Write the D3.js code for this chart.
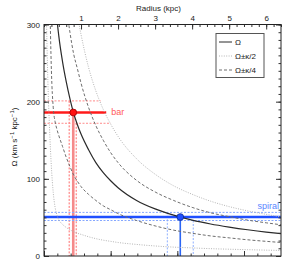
<!DOCTYPE html>
<html>
<head>
<meta charset="utf-8">
<script src="https://cdn.jsdelivr.net/npm/d3@7"></script>
<style>
  body { margin: 0; background: #fff; }
  svg { display: block; font-family: "Liberation Sans", Arial, sans-serif; }
  .tick text { font-size: 8px; fill: #222; }
</style>
</head>
<body>
<svg id="chart" width="287" height="259"></svg>
<script>
// radius samples (kpc) and curve values (km/s/kpc)
var radius      = [0.05, 0.07, 0.1, 0.15, 0.2, 0.25, 0.3, 0.35, 0.4, 0.5, 0.6, 0.7, 0.8, 0.9, 1.0, 1.2, 1.4, 1.6, 1.8, 2.0, 2.5, 3.0, 3.5, 4.0, 4.5, 5.0, 5.5, 6.0, 6.4]
var omega       = [null, null, null, null, null, null, 340, 307, 285, 252, 226, 204, 185, 170.5, 158, 138, 121, 108, 97.5, 88.5, 72, 61, 53, 46.5, 41.5, 37.5, 34, 31, 29]
var omegaPlusK4 = [null, null, null, null, null, null, null, null, null, null, 325, 290, 262, 243, 224, 193, 169, 150, 134, 121, 98, 83, 72, 63, 56, 51, 46.5, 43, 40.5]
var omegaPlusK2 = [null, null, null, null, null, null, null, null, null, null, null, null, 335, 312, 287, 245, 214, 190, 171, 155, 126, 106, 91, 80, 71, 64, 58.5, 54, 50.5]
var omegaMinK4  = [null, null, null, 350, 240, 192, 174, 164, 156, 142, 128, 116, 105, 97, 90, 80, 72, 65, 60, 55, 46, 39, 33.5, 29.5, 26, 23.5, 21, 19, 17.5]
var omegaMinK2  = [360, 300, 235, 165, 115, 82, 63, 53, 47, 41, 37, 34, 31.5, 29.5, 28, 25, 22.5, 20.5, 19, 17.5, 15, 13, 11.5, 10.5, 9.5, 8.8, 8.2, 7.6, 7.2]

// bar: pattern speed with its range, corotation radius with its range
var barOmega   = [201, 186, 172]     // upper, value, lower
var barHEnd    = [1.53, 1.68, 1.80]  // horizontal lines stop at Omega+kappa/2
var barR       = [0.68, 0.79, 0.87]
// spiral
var spiralOmega = [56.5, 50.5, 46]
var spiralR     = [3.33, 3.68, 4.03]

var yTicks = [0, 100, 200, 300]
var topTicks = [1, 2, 3, 4, 5, 6]

var svg = d3.select('#chart')
// (window.top is read only, so the frame edges get their own names)
var pLeft = 44, pRight = 281, pTop = 24.5, pBottom = 256

var x = d3.scaleLinear().domain([0, 6.4]).range([pLeft, pRight])
var y = d3.scaleLinear().domain([0, 300]).range([pBottom, pTop])
// lower axis (angular scale, its labels fall outside the picture)
var xb = d3.scaleLinear().domain([0, 177.75]).range([pLeft, pRight])

svg.append('clipPath').attr('id', 'plotclip')
    .append('rect')
    .attr('x', pLeft).attr('y', pTop)
    .attr('width', pRight - pLeft).attr('height', pBottom - pTop)

var plot = svg.append('g').attr('clip-path', 'url(#plotclip)')

// bar and spiral markers
drawSet = function(omegas, rs, hEnds, c){
    var styles = [
        {w: 1, dash: '2,1.5', col: c.dash},
        {w: 2.6, dash: null, col: c.solid},
        {w: 1, dash: '2,1.5', col: c.dash}
    ]
    for(var i=0; i<3; i++){
        plot.append('line')
            .attr('x1', x(0)).attr('x2', x(hEnds[i]))
            .attr('y1', y(omegas[i])).attr('y2', y(omegas[i]))
            .attr('stroke', styles[i].col)
            .attr('stroke-width', styles[i].w)
            .attr('stroke-dasharray', styles[i].dash)
        plot.append('line')
            .attr('x1', x(rs[i])).attr('x2', x(rs[i]))
            .attr('y1', y(omegas[i])).attr('y2', y(0))
            .attr('stroke', i == 1 ? c.vsolid : c.vdash)
            .attr('stroke-width', i == 1 ? c.vw : 1)
            .attr('stroke-dasharray', styles[i].dash)
    }
}
drawSet(barOmega, barR, barHEnd,
    {solid: '#ff1a1a', dash: '#ff8a8a', vsolid: '#f58a8a', vdash: '#ff6a6a', vw: 2.6})
drawSet(spiralOmega, spiralR, [6.4, 6.4, 6.4],
    {solid: '#1f4fff', dash: '#86a8ff', vsolid: '#2b66f5', vdash: '#8fb0ff', vw: 1.6})

// curves
var line = d3.line()
    .defined(function(d){ return d[1] != null })
    .x(function(d){ return x(d[0]) })
    .y(function(d){ return y(d[1]) })
    .curve(d3.curveMonotoneX)

var curves = [
    {vals: omegaMinK2,  col: '#b4b4b4', w: 1,   dash: '1,1.4'},
    {vals: omegaPlusK2, col: '#b4b4b4', w: 1,   dash: '1,1.4'},
    {vals: omegaMinK4,  col: '#6e6e6e', w: 1,   dash: '3,2'},
    {vals: omegaPlusK4, col: '#6e6e6e', w: 1,   dash: '3,2'},
    {vals: omega,       col: '#2a2a2a', w: 1.2, dash: null}
]
curves.forEach(function(c){
    var pts = radius.map(function(r, k){ return [r, c.vals[k]] })
    plot.append('path')
        .attr('d', line(pts))
        .attr('fill', 'none')
        .attr('stroke', c.col)
        .attr('stroke-width', c.w)
        .attr('stroke-dasharray', c.dash)
})

// points
svg.append('circle').attr('cx', x(barR[1])).attr('cy', y(barOmega[1])).attr('r', 3.4)
    .attr('fill', '#ff1010').attr('stroke', '#a00000').attr('stroke-width', 0.8)
svg.append('circle').attr('cx', x(spiralR[1])).attr('cy', y(spiralOmega[1])).attr('r', 3.4)
    .attr('fill', '#1f4fff').attr('stroke', '#0a2a90').attr('stroke-width', 0.8)

svg.append('text').text('bar')
    .attr('x', x(barHEnd[1]) + 5).attr('y', y(barOmega[1]) + 3)
    .attr('font-size', '9px').attr('fill', '#ff5a5a')
svg.append('text').text('spiral')
    .attr('x', pRight - 2).attr('y', y(spiralOmega[0]) - 3)
    .attr('text-anchor', 'end')
    .attr('font-size', '9px').attr('fill', '#5a86ff')

// axes, ticks pointing inward
addAxis = function(axis, tx, ty, major, minor, labels){
    var g = svg.append('g').attr('transform', 'translate(' + tx + ',' + ty + ')')
    g.call(axis.tickValues(minor).tickSize(-2.5).tickFormat(''))
    g.selectAll('.domain').remove()
    g.selectAll('line').attr('stroke', '#333')
    var g2 = svg.append('g').attr('transform', 'translate(' + tx + ',' + ty + ')')
    g2.call(axis.tickValues(major).tickSize(-5).tickPadding(4).tickFormat(labels ? d3.format('d') : ''))
    g2.selectAll('.domain').remove()
    g2.selectAll('line').attr('stroke', '#333')
}
addAxis(d3.axisLeft(y), pLeft, 0, yTicks, d3.range(0, 301, 10), true)
addAxis(d3.axisRight(y), pRight, 0, yTicks, d3.range(0, 301, 10), false)
addAxis(d3.axisTop(x), 0, pTop, topTicks, d3.range(0, 6.41, 0.2), true)
addAxis(d3.axisBottom(xb), 0, pBottom, [0, 50, 100, 150], d3.range(0, 178, 10), false)

svg.append('rect')
    .attr('x', pLeft).attr('y', pTop)
    .attr('width', pRight - pLeft).attr('height', pBottom - pTop)
    .attr('fill', 'none').attr('stroke', '#222').attr('stroke-width', 1)

// titles
svg.append('text').text('Radius (kpc)')
    .attr('x', 158.5).attr('y', 10.5)
    .attr('text-anchor', 'middle').attr('font-size', '8px').attr('fill', '#222')

var ylab = svg.append('text')
    .attr('transform', 'translate(17,137) rotate(-90)')
    .attr('text-anchor', 'middle').attr('font-size', '8px').attr('fill', '#222')
ylab.append('tspan').text('\u03A9 (km s')
ylab.append('tspan').text('\u22121').attr('font-size', '6px').attr('dy', -3)
ylab.append('tspan').text(' kpc').attr('dy', 3)
ylab.append('tspan').text('\u22121').attr('font-size', '6px').attr('dy', -3)
ylab.append('tspan').text(')').attr('dy', 3)

// legend
var leg = svg.append('g')
leg.append('rect').attr('x', 216).attr('y', 33.5).attr('width', 48).attr('height', 44)
    .attr('fill', '#fff').attr('stroke', '#555').attr('stroke-width', 1)
var legItems = [
    {label: '\u03A9',        col: '#2a2a2a', dash: null},
    {label: '\u03A9\u00B1\u03BA/2', col: '#b4b4b4', dash: '1,1.4'},
    {label: '\u03A9\u00B1\u03BA/4', col: '#6e6e6e', dash: '3,2'}
]
legItems.forEach(function(d, k){
    var ly = 42 + k * 14
    leg.append('line').attr('x1', 219).attr('x2', 232).attr('y1', ly).attr('y2', ly)
        .attr('stroke', d.col).attr('stroke-width', 1).attr('stroke-dasharray', d.dash)
    leg.append('text').text(d.label).attr('x', 235).attr('y', ly + 3)
        .attr('font-size', '8px').attr('fill', '#222')
})
</script>
</body>
</html>
